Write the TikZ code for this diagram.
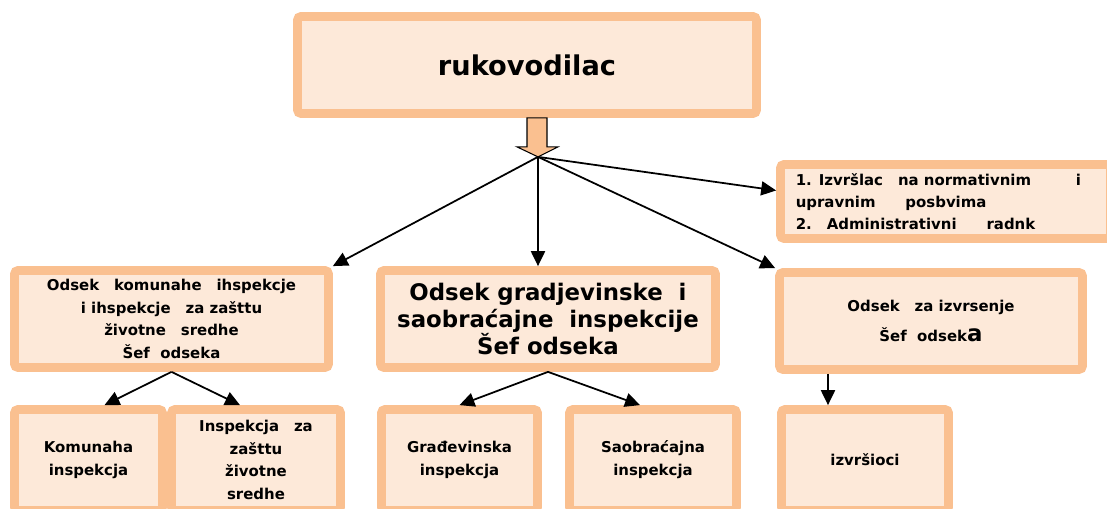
\documentclass[tikz,border=0pt]{standalone}
\usepackage{fontspec}
\setmainfont{DejaVu Sans}
\usepackage{tikz}
\usetikzlibrary{calc,arrows.meta,positioning}
\definecolor{okvir}{HTML}{FAC090}
\definecolor{pozadina}{HTML}{FDE9D9}
\tikzset{
  kutija/.style={draw=okvir,fill=pozadina,line width=5pt,rounded corners=2pt,inner sep=0pt,
    align=center,font=\bfseries\fontsize{8.5}{13}\selectfont},
  strela/.style={-{Triangle[length=8.5pt,width=8pt]},line width=1pt},
}
\begin{document}
\begin{tikzpicture}[x=0.02cm,y=-0.02cm]
  \useasboundingbox (0,0) rectangle (1107,509);
  % vrh
  \node[kutija,minimum width=9.18cm,minimum height=1.94cm,font=\bfseries\fontsize{15.5}{17}\selectfont] (ruk) at (527,65) {rukovodilac};
  % blok strelica ispod rukovodioca
  \coordinate (s) at ($(ruk.south)+(10,0)$);
  \draw[fill=okvir,line width=0.6pt] ($(s)+(-10,0)$) -- ($(s)+(10,0)$) -- ($(s)+(10,29)$) -- ($(s)+(21,29)$)
    -- ($(s)+(1,39)$) coordinate (hub) -- ($(s)+(-20,29)$) -- ($(s)+(-10,29)$) -- cycle;
  % drugi red
  \node[kutija,minimum width=6.6cm,minimum height=1.48cm,align=left,font=\bfseries\fontsize{8.5}{12.5}\selectfont] (info) at (945.5,201.5)
    {1. Izvršlac\quad na normativnim\qquad\quad i\\upravnim\qquad posbvima\\2.\quad Administrativni\qquad radnk\hspace*{1.2cm}};
  \node[kutija,minimum width=6.28cm,minimum height=1.94cm] (komunal) at (171.5,319)
    {Odsek\quad komunahe\quad ihspekcje\\i ihspekcje\quad za zašttu\\životne\quad sredhe\\Šef\ \ odseka};
  \node[kutija,minimum width=6.7cm,minimum height=1.94cm,font=\bfseries\fontsize{13}{15.5}\selectfont] (grad) at (548,319)
    {Odsek gradjevinske\ \ i\\saobraćajne\ \ inspekcije\\Šef odseka};
  \node[kutija,minimum width=6.06cm,minimum height=1.94cm,font=\bfseries\fontsize{8.5}{17}\selectfont] (izvr) at (931,321)
    {Odsek\quad za izvrsenje\\Šef\ \ odsek{\fontsize{13}{17}\selectfont a}};
  % treci red
  \node[kutija,minimum width=2.96cm,minimum height=2.02cm] (kominsp) at (88.5,460) {Komunaha\\inspekcja};
  \node[kutija,minimum width=3.38cm,minimum height=2.02cm] (zast) at (256,460) {Inspekcja\quad za\\zašttu\\životne\\sredhe};
  \node[kutija,minimum width=3.12cm,minimum height=2.02cm] (gradinsp) at (459.5,460) {Građevinska\\inspekcja};
  \node[kutija,minimum width=3.34cm,minimum height=2.02cm] (saob) at (653,460) {Saobraćajna\\inspekcja};
  \node[kutija,minimum width=3.34cm,minimum height=2.02cm] (izvrs) at (865,460) {izvršioci};
  % veze
  \draw[strela] (hub) -- (komunal.north east);
  \draw[strela] (hub) -- (hub |- grad.north);
  \draw[strela] (hub) -- (izvr.north west);
  \draw[strela] (hub) -- ($(info.west)+(0,-11)$);
  \draw[strela] (komunal.south) -- ($(kominsp.north)+(16,0)$);
  \draw[strela] (komunal.south) -- ($(zast.north)+(-16,0)$);
  \draw[strela] (grad.south) -- (gradinsp.north);
  \draw[strela] (grad.south) -- ($(saob.north)+(-13,0)$);
  \coordinate (dole) at ($(izvrs.north)+(-37,0)$);
  \draw[strela] (dole |- izvr.south) -- (dole);
\end{tikzpicture}
\end{document}
